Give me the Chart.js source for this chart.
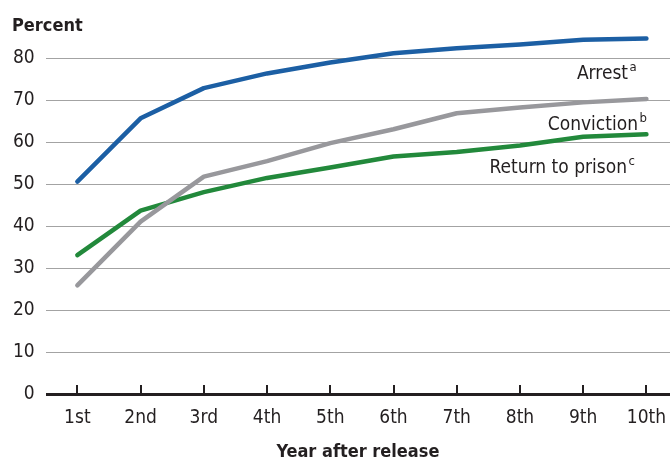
<!DOCTYPE html>
<html>
<head>
<meta charset="utf-8">
<script src="https://cdn.jsdelivr.net/npm/chart.js@4"></script>
<style>
  html, body { margin: 0; padding: 0; background: #fff; overflow: hidden; }
</style>
</head>
<body>
<canvas id="lineChart" width="670" height="462"></canvas>
<script>
const categories = ["1st", "2nd", "3rd", "4th", "5th", "6th", "7th", "8th", "9th", "10th"];
const arrest = [50.6, 65.7, 72.9, 76.4, 79.0, 81.2, 82.4, 83.3, 84.4, 84.7];
const conviction = [25.9, 41.1, 51.8, 55.5, 59.8, 63.1, 66.9, 68.3, 69.5, 70.3];
const returnToPrison = [33.1, 43.7, 48.1, 51.5, 54.0, 56.6, 57.7, 59.2, 61.3, 61.9];
const yTicks = [0, 10, 20, 30, 40, 50, 60, 70, 80];

const FONT = "'DejaVu Sans Condensed', 'Liberation Sans Narrow', sans-serif";
const TEXT = "#231f20";

// series labels drawn next to the lines (text, superscript)
const seriesLabels = [
  { text: "Arrest", sup: "a", right: 628, base: 79 },
  { text: "Conviction", sup: "b", right: 638, base: 130 },
  { text: "Return to prison", sup: "c", right: 627, base: 173 }
];

const toPoints = arr => arr.map((v, i) => ({ x: i + 1, y: v }));

const extras = {
  id: "extras",
  afterDraw(chart) {
    const ctx = chart.ctx;
    const xs = chart.scales.x;
    const ys = chart.scales.y;
    const y0 = ys.getPixelForValue(0);

    // small tick marks above the axis
    ctx.save();
    ctx.strokeStyle = TEXT;
    ctx.lineWidth = 2;
    categories.forEach((c, i) => {
      const x = Math.round(xs.getPixelForValue(i + 1));
      ctx.beginPath();
      ctx.moveTo(x, y0);
      ctx.lineTo(x, y0 - 9);
      ctx.stroke();
    });

    ctx.fillStyle = TEXT;
    ctx.textBaseline = "alphabetic";
    ctx.font = "bold 18px " + FONT;
    ctx.textAlign = "left";
    ctx.fillText("Percent", 12, 31);

    seriesLabels.forEach(l => {
      ctx.font = "19px " + FONT;
      ctx.textAlign = "right";
      ctx.fillText(l.text, l.right, l.base);
      ctx.font = "13px " + FONT;
      ctx.textAlign = "left";
      ctx.fillText(l.sup, l.right + 1.5, l.base - 8);
    });
    ctx.restore();
  }
};

new Chart(document.getElementById("lineChart"), {
  type: "line",
  data: {
    datasets: [
      { label: "Arrest", data: toPoints(arrest), borderColor: "#1c5fa4", order: 2 },
      { label: "Return to prison", data: toPoints(returnToPrison), borderColor: "#22893b", order: 1 },
      { label: "Conviction", data: toPoints(conviction), borderColor: "#98989c", order: 0 }
    ]
  },
  options: {
    responsive: false,
    animation: false,
    layout: { padding: { left: 2, top: 0, right: 0, bottom: 1 } },
    elements: {
      line: { borderWidth: 4.5, tension: 0, borderCapStyle: "round", borderJoinStyle: "round" },
      point: { radius: 0 }
    },
    plugins: {
      legend: { display: false },
      tooltip: { enabled: false }
    },
    scales: {
      x: {
        type: "linear",
        min: 0.5,
        max: 10.373,
        afterBuildTicks: axis => {
          axis.ticks = categories.map((c, i) => ({ value: i + 1 }));
        },
        grid: { display: false, drawTicks: false },
        border: { display: false },
        ticks: {
          callback: v => categories[v - 1],
          autoSkip: false,
          maxRotation: 0,
          padding: 0,
          color: TEXT,
          font: { family: FONT, size: 19, lineHeight: 2.526 }
        },
        title: {
          display: true,
          text: "Year after release",
          color: TEXT,
          font: { family: FONT, size: 18, weight: "bold", lineHeight: 1.0 },
          padding: { top: 1, bottom: 0 }
        }
      },
      y: {
        min: 0,
        max: 88.56,
        afterBuildTicks: axis => {
          axis.ticks = yTicks.map(v => ({ value: v }));
        },
        grid: {
          drawTicks: false,
          color: c => (c.tick && c.tick.value === 0 ? TEXT : "#a3a3a3"),
          lineWidth: c => (c.tick && c.tick.value === 0 ? 3 : 1)
        },
        border: { display: false },
        ticks: {
          padding: 11,
          color: TEXT,
          font: { family: FONT, size: 19 }
        }
      }
    }
  },
  plugins: [extras]
});
</script>
</body>
</html>
